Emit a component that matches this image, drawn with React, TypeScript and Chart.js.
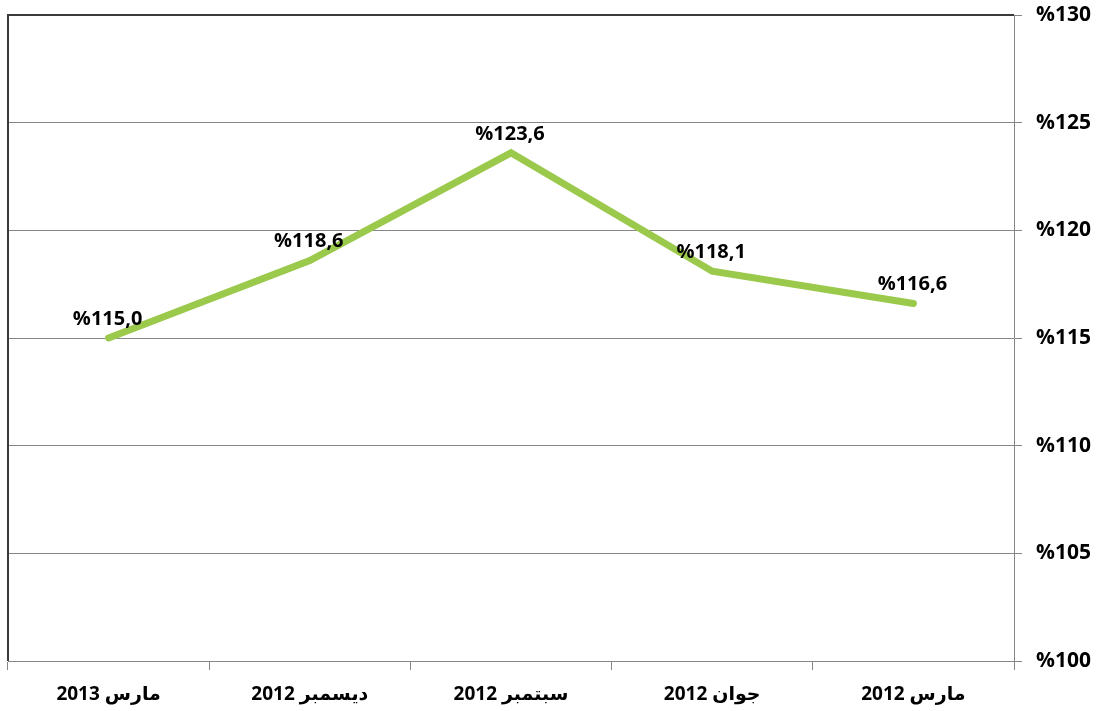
import React, { useEffect, useRef } from "react";
import { Chart, registerables } from "chart.js";

Chart.register(...registerables);

const categories = ["مارس 2012", "جوان 2012", "سبتمبر 2012", "ديسمبر 2012", "مارس 2013"];
const values = [116.6, 118.1, 123.6, 118.6, 115.0];
const valueLabels = ["%116,6", "%118,1", "%123,6", "%118,6", "%115,0"];
const yTicks = [100, 105, 110, 115, 120, 125, 130];

const FONT = "'Open Sans', 'DejaVu Sans', sans-serif";

const labelPlugin = {
  id: "valueLabels",
  afterDatasetsDraw(chart: any) {
    const ctx = chart.ctx;
    const meta = chart.getDatasetMeta(0);
    ctx.save();
    ctx.font = `bold 20px ${FONT}`;
    ctx.fillStyle = "#000";
    ctx.textAlign = "center";
    ctx.textBaseline = "middle";
    meta.data.forEach((pt: any, i: number) => {
      ctx.fillText(valueLabels[i], pt.x - 1, pt.y - 19);
    });
    ctx.restore();
  },
};

const borderPlugin = {
  id: "plotBorder",
  afterDraw(chart: any) {
    const { ctx, chartArea } = chart;
    ctx.save();
    ctx.strokeStyle = "#3a3a3a";
    ctx.lineWidth = 2;
    ctx.beginPath();
    ctx.moveTo(chartArea.left, chartArea.bottom);
    ctx.lineTo(chartArea.left, chartArea.top);
    ctx.lineTo(chartArea.right, chartArea.top);
    ctx.stroke();
    ctx.restore();
  },
};

export default function App() {
  const ref = useRef<HTMLCanvasElement>(null);
  useEffect(() => {
    document.body.style.margin = "0";
    const chart = new Chart(ref.current!, {
      type: "line",
      data: {
        labels: categories,
        datasets: [
          {
            data: values,
            borderColor: "#9BC94B",
            borderWidth: 7,
            borderCapStyle: "round",
            borderJoinStyle: "miter",
            pointRadius: 0,
            tension: 0,
          },
        ],
      },
      options: {
        animation: false,
        responsive: false,
        layout: { padding: { left: 8, top: 15, right: 0, bottom: 0 } },
        plugins: { legend: { display: false }, tooltip: { enabled: false } },
        scales: {
          x: {
            reverse: true,
            offset: true,
            grid: {
              offset: true,
              drawOnChartArea: false,
              tickLength: 9,
              color: "#868686",
            },
            border: { color: "#868686", width: 1 },
            ticks: {
              font: { family: FONT, size: 19, weight: "bold" },
              color: "#000",
              padding: 13,
              maxRotation: 0,
            },
            afterFit(scale: any) {
              scale.height = 50;
              scale.paddingLeft = 0;
              scale.paddingRight = 0;
            },
          },
          y: {
            position: "right",
            min: 100,
            max: 130,
            afterBuildTicks(scale: any) {
              scale.ticks = yTicks.map((v) => ({ value: v }));
            },
            grid: { color: "#868686", tickLength: 8, lineWidth: 1 },
            border: { color: "#868686", width: 1 },
            ticks: {
              font: { family: FONT, size: 21, weight: "bold" },
              color: "#000",
              padding: 14,
              callback: (v: any) => "%" + v,
            },
            afterFit(scale: any) {
              scale.width = 85;
              scale.paddingTop = 0;
              scale.paddingBottom = 0;
            },
          },
        },
      },
      plugins: [labelPlugin, borderPlugin],
    });
    return () => chart.destroy();
  }, []);
  return (
    <div style={{ width: 1099, height: 711 }}>
      <canvas ref={ref} width={1099} height={711} style={{ display: "block" }} />
    </div>
  );
}
